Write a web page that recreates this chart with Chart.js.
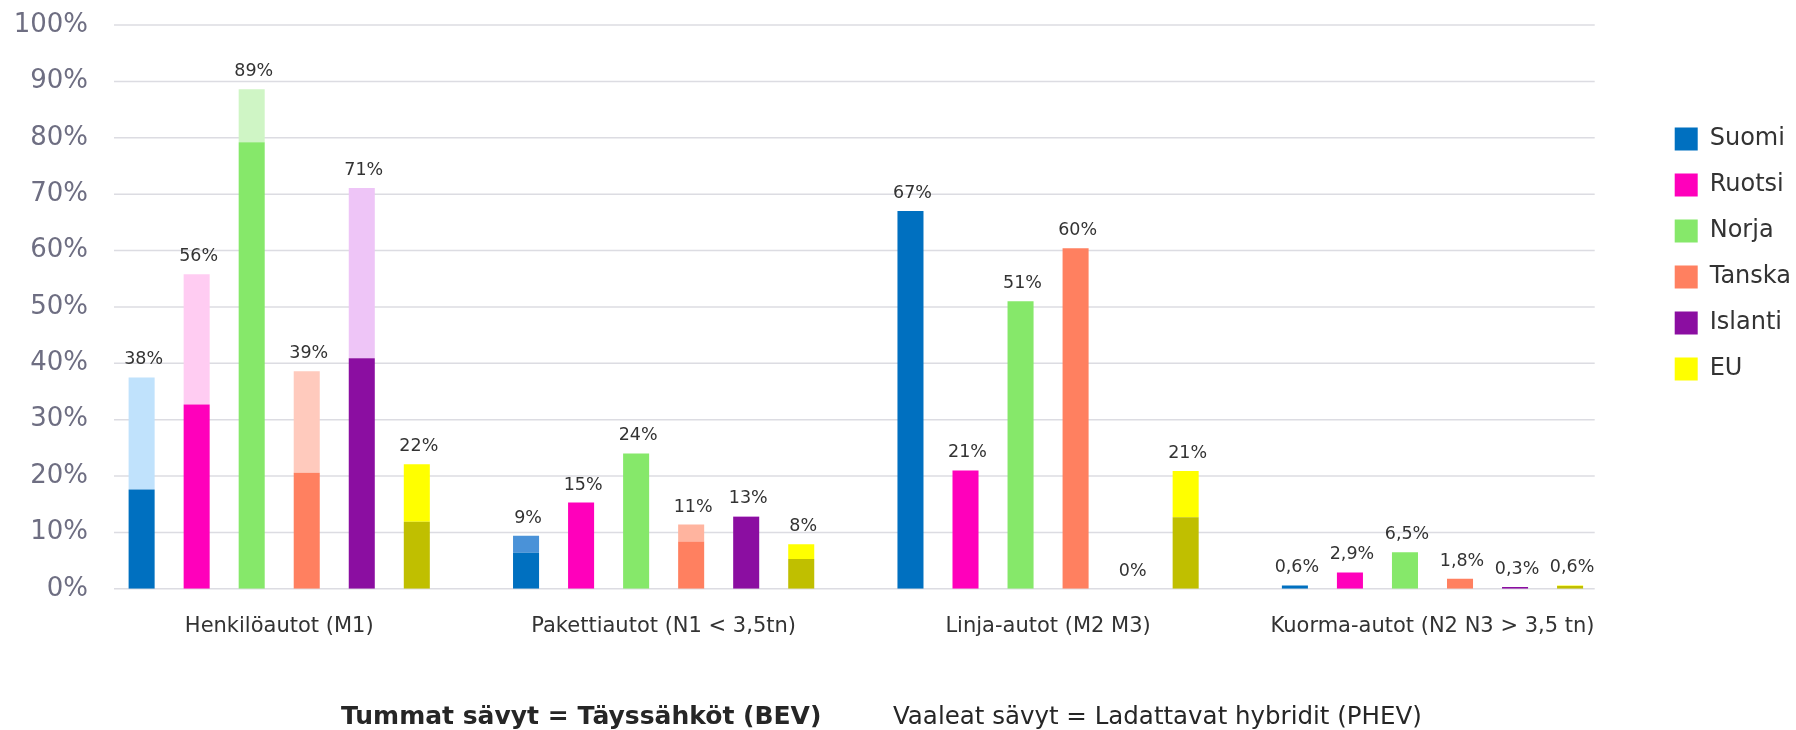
<!DOCTYPE html>
<html>
<head>
<meta charset="utf-8">
<script src="https://cdn.jsdelivr.net/npm/chart.js@4"></script>
<style>
    body { margin: 0; background: #ffffff; }
    #wrap { position: relative; width: 1796px; height: 730px; }
    .note { position: absolute; top: 701px; line-height: 30px; color: #262626; font-family: "DejaVu Sans"; white-space: nowrap; }
    #js--note-dark { left: 341px; font-size: 25px; font-weight: bold; }
    #js--note-light { left: 893px; font-size: 24.5px; }
</style>
</head>
<body>
<div id="wrap">
    <canvas id="js--chart"></canvas>
    <div class="note" id="js--note-dark">Tummat sävyt = Täyssähköt (BEV)</div>
    <div class="note" id="js--note-light">Vaaleat sävyt = Ladattavat hybridit (PHEV)</div>
</div>
<script>
const categories = [
    "Henkilöautot (M1)",
    "Pakettiautot (N1 < 3,5tn)",
    "Linja-autot (M2 M3)",
    "Kuorma-autot (N2 N3 > 3,5 tn)"
];
const countries = ["Suomi", "Ruotsi", "Norja", "Tanska", "Islanti", "EU"];
const yTicks = [0, 10, 20, 30, 40, 50, 60, 70, 80, 90, 100];

// täyssähköt (BEV), % per category
const suomiBev = [17.6, 6.4, 67.0, 0.6];
const ruotsiBev = [32.7, 15.3, 21.0, 2.9];
const norjaBev = [79.2, 24.0, 51.0, 6.5];
const tanskaBev = [20.6, 8.4, 60.4, 1.8];
const islantiBev = [40.9, 12.8, 0, 0.3];
const euBev = [11.9, 5.3, 12.7, 0.5];

// ladattavat hybridit (PHEV), stacked on top
const suomiPhev = [19.9, 3.0, 0, 0];
const ruotsiPhev = [23.1, 0, 0, 0];
const norjaPhev = [9.4, 0, 0, 0];
const tanskaPhev = [18.0, 3.0, 0, 0];
const islantiPhev = [30.2, 0.1, 0, 0];
const euPhev = [10.2, 2.6, 8.2, 0.1];

// decimals used in the total labels of each category
const labelDecimals = [0, 0, 0, 1];

const bevValues = [suomiBev, ruotsiBev, norjaBev, tanskaBev, islantiBev, euBev];
const phevValues = [suomiPhev, ruotsiPhev, norjaPhev, tanskaPhev, islantiPhev, euPhev];

const darkColors = ["#0070C0", "#FF00BB", "#86E86A", "#FF8060", "#8B0EA1", "#C0BF00"];
const lightColors = [
    ["#C0E2FC", "#4A92D8", "#C0E2FC", "#C0E2FC"],
    "#FFCCF2",
    "#CFF5C5",
    ["#FFCABD", "#FFB49F", "#FFCABD", "#FFCABD"],
    "#EEC5F7",
    "#FFFF00"
];
const legendColors = ["#0070C0", "#FF00BB", "#86E86A", "#FF8060", "#8B0EA1", "#FFFF00"];

const datasets = [];
countries.forEach(function (country, i) {
    datasets.push({
        label: country + " BEV",
        data: bevValues[i],
        backgroundColor: darkColors[i],
        stack: "s" + i
    });
});
countries.forEach(function (country, i) {
    datasets.push({
        label: country + " PHEV",
        data: phevValues[i],
        backgroundColor: lightColors[i],
        stack: "s" + i
    });
});

// grid lines do not run over the whole plot width in the original
const gridLines = {
    id: "gridLines",
    beforeDatasetsDraw: function (chart) {
        const ctx = chart.ctx;
        const area = chart.chartArea;
        ctx.save();
        ctx.strokeStyle = "#DCDCE2";
        ctx.lineWidth = 1.5;
        yTicks.forEach(function (v) {
            const y = chart.scales.y.getPixelForValue(v);
            ctx.beginPath();
            ctx.moveTo(area.left + 27, y);
            ctx.lineTo(area.right - 30, y);
            ctx.stroke();
        });
        ctx.restore();
    }
};

// total (BEV + PHEV) above each bar
const totalLabels = {
    id: "totalLabels",
    afterDatasetsDraw: function (chart) {
        const ctx = chart.ctx;
        ctx.save();
        ctx.font = "17.5px 'DejaVu Sans'";
        ctx.fillStyle = "#333333";
        ctx.textAlign = "center";
        ctx.textBaseline = "alphabetic";
        countries.forEach(function (country, i) {
            const meta = chart.getDatasetMeta(countries.length + i);
            meta.data.forEach(function (bar, j) {
                const total = bevValues[i][j] + phevValues[i][j];
                const text = (total + 1e-9).toFixed(labelDecimals[j]).replace(".", ",") + "%";
                ctx.fillText(text, bar.x + 2, bar.y - 13);
            });
        });
        ctx.restore();
    }
};

// legend sits a bit away from the plot, like in the original
const legendPlace = {
    id: "legendPlace",
    afterLayout: function (chart) {
        const lg = chart.legend;
        const area = chart.chartArea;
        const h = lg.bottom - lg.top;
        lg.left = area.right + 28;
        lg.right = lg.left + lg.width;
        lg.top = area.top + 80;
        lg.bottom = lg.top + h;
    }
};

const config = {
    type: "bar",
    data: {
        labels: categories,
        datasets: datasets
    },
    options: {
        responsive: true,
        maintainAspectRatio: false,
        animation: false,
        categoryPercentage: 0.859,
        barPercentage: 0.473,
        layout: {
            padding: { left: 14, right: 23, top: 25, bottom: 66 }
        },
        scales: {
            x: {
                grid: { display: false, drawTicks: false },
                border: { display: false },
                ticks: {
                    color: "#333333",
                    font: { family: "DejaVu Sans", size: 21 },
                    padding: 25,
                    maxRotation: 0,
                    autoSkip: false
                }
            },
            y: {
                min: 0,
                max: 100,
                grid: { display: false, drawTicks: false },
                border: { display: false },
                afterFit: function (scale) {
                    scale.width = 73;
                },
                ticks: {
                    stepSize: 10,
                    padding: -1,
                    color: "#6E6E82",
                    font: { family: "DejaVu Sans", size: 26 },
                    callback: function (value) {
                        return value + "%";
                    }
                }
            }
        },
        plugins: {
            tooltip: { enabled: false },
            legend: {
                position: "right",
                align: "start",
                maxWidth: 150,
                labels: {
                    boxWidth: 23,
                    boxHeight: 23,
                    padding: 22,
                    color: "#333333",
                    font: { family: "DejaVu Sans", size: 24 },
                    generateLabels: function () {
                        return countries.map(function (country, i) {
                            return {
                                text: country,
                                fillStyle: legendColors[i],
                                strokeStyle: legendColors[i],
                                lineWidth: 0,
                                hidden: false,
                                datasetIndex: i,
                                fontColor: "#333333"
                            };
                        });
                    }
                }
            }
        }
    },
    plugins: [gridLines, totalLabels, legendPlace]
};

new Chart(document.getElementById("js--chart"), config);
</script>
</body>
</html>
